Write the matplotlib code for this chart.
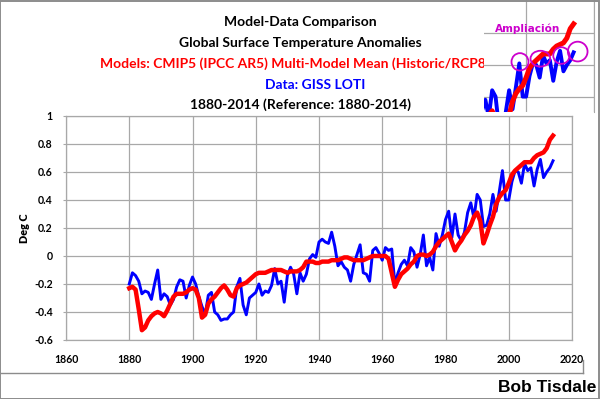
import matplotlib
matplotlib.use("Agg")
import matplotlib.pyplot as plt
from matplotlib.patches import Rectangle, Ellipse
from matplotlib.lines import Line2D
import numpy as np

years = list(range(1880, 2015))

giss_loti = [
    -0.20, -0.12, -0.14, -0.18, -0.27, -0.25, -0.26, -0.31, -0.20, -0.10,
    -0.31, -0.27, -0.29, -0.35, -0.31, -0.22, -0.17, -0.18, -0.30, -0.21,
    -0.15, -0.20, -0.29, -0.36, -0.42, -0.28, -0.26, -0.40, -0.42, -0.46,
    -0.45, -0.45, -0.42, -0.40, -0.22, -0.16, -0.35, -0.42, -0.30, -0.28,
    -0.26, -0.20, -0.28, -0.25, -0.26, -0.21, -0.09, -0.20, -0.18, -0.33,
    -0.14, -0.08, -0.13, -0.27, -0.12, -0.18, -0.13, -0.02, 0.01, -0.01,
    0.10, 0.12, 0.10, 0.09, 0.17, 0.07, -0.07, -0.04, -0.08, -0.10,
    -0.18, -0.06, 0.01, 0.08, -0.12, -0.13, -0.18, 0.04, 0.06, 0.02,
    -0.03, 0.06, 0.04, 0.05, -0.20, -0.12, -0.06, -0.03, -0.07, 0.06,
    0.03, -0.08, 0.01, 0.15, -0.07, -0.01, -0.10, 0.16, 0.07, 0.15,
    0.26, 0.32, 0.13, 0.30, 0.15, 0.11, 0.17, 0.31, 0.38, 0.27,
    0.44, 0.40, 0.21, 0.22, 0.30, 0.44, 0.32, 0.46, 0.61, 0.40,
    0.40, 0.53, 0.61, 0.60, 0.52, 0.66, 0.61, 0.63, 0.50, 0.62,
    0.69, 0.56, 0.60, 0.63, 0.68,
]

cmip5_mean = [
    -0.23, -0.22, -0.24, -0.38, -0.53, -0.51, -0.46, -0.43, -0.41, -0.40,
    -0.41, -0.43, -0.39, -0.34, -0.29, -0.27, -0.27, -0.27, -0.26, -0.24,
    -0.23, -0.24, -0.30, -0.44, -0.42, -0.34, -0.31, -0.29, -0.26, -0.23,
    -0.21, -0.24, -0.28, -0.29, -0.23, -0.21, -0.20, -0.19, -0.17, -0.15,
    -0.13, -0.12, -0.12, -0.12, -0.11, -0.10, -0.10, -0.10, -0.10, -0.11,
    -0.12, -0.11, -0.11, -0.11, -0.10, -0.08, -0.04, -0.04, -0.04, -0.05,
    -0.05, -0.04, -0.04, -0.04, -0.03, -0.03, -0.03, -0.02, -0.01, -0.01,
    -0.02, -0.03, -0.03, -0.03, -0.03, -0.02, -0.01, 0.00, 0.00, 0.00,
    0.00, 0.00, -0.02, -0.12, -0.22, -0.17, -0.13, -0.11, -0.09, -0.06,
    -0.04, 0.00, 0.01, 0.01, 0.00, 0.01, 0.03, 0.07, 0.10, 0.12,
    0.14, 0.16, 0.10, 0.04, 0.08, 0.11, 0.15, 0.18, 0.22, 0.28,
    0.31, 0.25, 0.09, 0.15, 0.22, 0.28, 0.37, 0.42, 0.45, 0.47,
    0.52, 0.58, 0.61, 0.63, 0.65, 0.67, 0.67, 0.67, 0.70, 0.72,
    0.73, 0.74, 0.77, 0.83, 0.86,
]

x_ticks = [1860, 1880, 1900, 1920, 1940, 1960, 1980, 2000, 2020]
y_ticks = [-0.6, -0.4, -0.2, 0, 0.2, 0.4, 0.6, 0.8, 1]
y_tick_labels = ["-0.6", "-0.4", "-0.2", "0", "0.2", "0.4", "0.6", "0.8", "1"]

title_lines = [
    ("Model-Data Comparison", "#000000"),
    ("Global Surface Temperature Anomalies", "#000000"),
    ("Models: CMIP5 (IPCC AR5) Multi-Model Mean (Historic/RCP8.5)", "#ff0000"),
    ("Data: GISS LOTI", "#0000ff"),
    ("1880-2014 (Reference: 1880-2014)", "#000000"),
]

W, H = 600, 399
FONT = ["Lato", "DejaVu Sans"]
GRID = "#a8a8a8"

fig = plt.figure(figsize=(W / 100, H / 100), dpi=100)
fig.patch.set_facecolor("white")

def fx(px):
    return px / W

def fy(py):
    return 1 - py / H

# main axes
ax = fig.add_axes([fx(66), fy(340), fx(572) - fx(66), fy(116) - fy(340)])
ax.plot(years, giss_loti, color="#0000ff", lw=2.1, solid_joinstyle="round", zorder=3)
ax.plot(years, cmip5_mean, color="#ff0000", lw=3.2, solid_joinstyle="round", zorder=4)
ax.set_xlim(1860, 2020)
ax.set_ylim(-0.6, 1.0)
ax.set_xticks(x_ticks)
ax.set_yticks(y_ticks)
ax.set_yticklabels(y_tick_labels)
ax.grid(True, color=GRID, lw=0.9)
ax.set_axisbelow(True)
for s in ax.spines.values():
    s.set_color(GRID)
    s.set_linewidth(0.9)
ax.tick_params(axis="y", length=2.5, color=GRID, pad=7)
ax.tick_params(axis="x", length=0, pad=10)
for lab in ax.get_xticklabels() + ax.get_yticklabels():
    lab.set_fontfamily(FONT)
    lab.set_fontweight("bold")
    lab.set_fontsize(7.6)
ax.set_ylabel("Deg C", fontfamily=FONT, fontweight="heavy", fontsize=7.8, labelpad=3)

# titles
ys = [22, 43, 64, 85, 105]
xs = [300, 300, 300, 315, 300]
for (txt, col), yy, xx in zip(title_lines, ys, xs):
    fig.text(fx(xx), fy(yy), txt, color=col, ha="center", va="center",
             fontfamily=FONT, fontweight="bold", fontsize=10.0)

fig.text(fx(596), fy(388), "Bob Tisdale", ha="right", va="center",
         fontfamily=["Liberation Sans", "DejaVu Sans"], fontweight="bold", fontsize=12.5)

# chart-area border and outer border
fig.add_artist(Line2D([fx(1), fx(583)], [fy(373), fy(373)], color="#8c8c8c", lw=1, transform=fig.transFigure))
fig.add_artist(Line2D([fx(583), fx(583)], [fy(373), fy(360)], color="#8c8c8c", lw=1, transform=fig.transFigure))
fig.add_artist(Rectangle((0.0008, 0.001), 0.998, 0.997, fill=False, edgecolor="#8c8c8c", lw=1.4,
                         transform=fig.transFigure, zorder=20))

# inset ("Ampliación")
fig.add_artist(Rectangle((fx(484), fy(112)), fx(600) - fx(484), fy(0) - fy(112), facecolor="white",
                         edgecolor="none", transform=fig.transFigure, zorder=8))
ax2 = fig.add_axes([fx(484), fy(112), fx(594) - fx(484), fy(0) - fy(112)], zorder=10)
ax2.set_facecolor("white")
ax2.plot(years, giss_loti, color="#0000ff", lw=2.8, solid_joinstyle="round", zorder=3)
ax2.plot(years, cmip5_mean, color="#ff0000", lw=3.6, solid_joinstyle="round", zorder=4)
ax2.set_xlim(1987.6, 2020)
ax2.set_ylim(0.6 - 47 / 158, 0.6 + 65 / 158)
ax2.set_xticks([2000, 2020])
ax2.set_yticks([0.4, 0.6, 0.8])
ax2.grid(True, color=GRID, lw=0.9)
ax2.set_axisbelow(True)
ax2.tick_params(length=0, labelleft=False, labelbottom=False)
for s in ax2.spines.values():
    s.set_visible(False)
ax2.spines["right"].set_visible(True)
ax2.spines["right"].set_color(GRID)
ax2.text(2000.5, 0.83, "Ampliación", color="#cc00cc", ha="center", va="center",
         fontfamily="DejaVu Sans", fontweight="bold", fontsize=7.6)
for (cx, cy, w, h) in [(1998.2, 0.62, 5.0, 0.11), (2004.2, 0.64, 5.8, 0.10),
                       (2010.4, 0.66, 4.8, 0.105), (2015.2, 0.685, 5.8, 0.125)]:
    ax2.add_patch(Ellipse((cx, cy), w, h, fill=False, edgecolor="#cc00cc", lw=1.3, zorder=6))

fig.savefig("out.png", dpi=100)
